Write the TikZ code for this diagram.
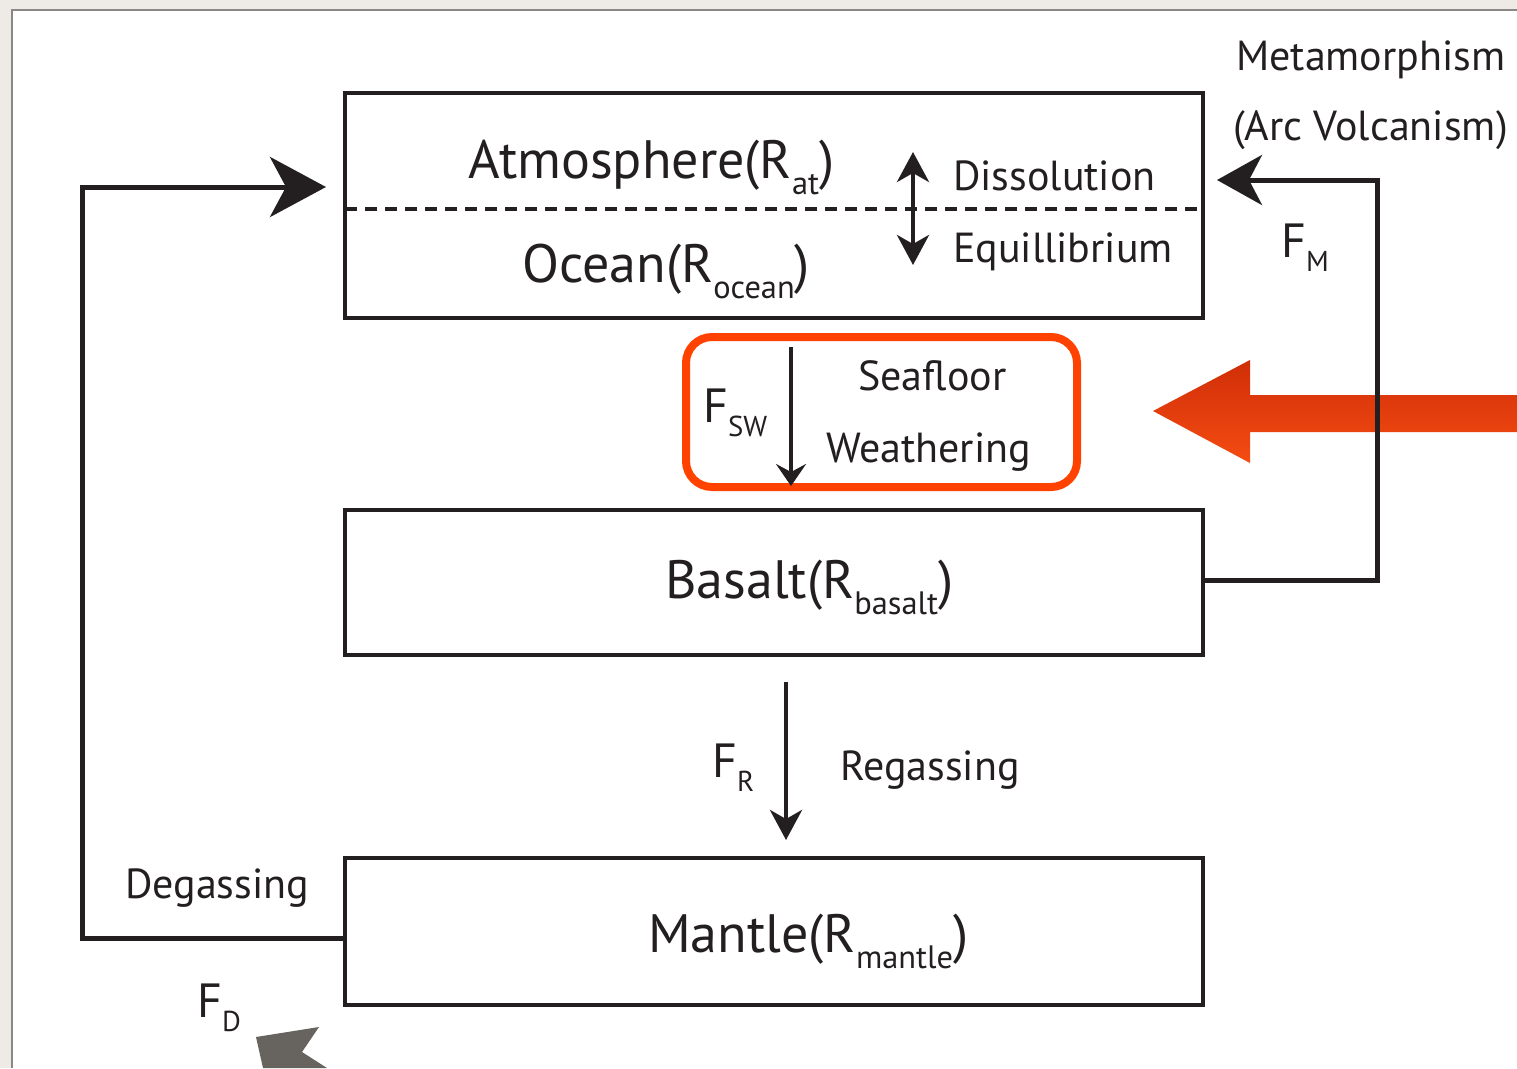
\documentclass[tikz,border=0pt]{standalone}
\usepackage{fontspec}
\setmainfont{PT Sans}
\usetikzlibrary{arrows.meta}
\definecolor{ink}{HTML}{231F20}
\definecolor{bgc}{HTML}{EEEBE6}
\definecolor{frm}{HTML}{8A8784}
\definecolor{redbox}{HTML}{FF4200}
\definecolor{redtop}{HTML}{D02E08}
\definecolor{redbot}{HTML}{F44C12}
\definecolor{grayarr}{HTML}{67645F}
\newcommand\lsub[1]{\raisebox{-0.3em}{\scalebox{0.6}{#1}}}
\begin{document}
\begin{tikzpicture}[x=1pt,y=-1pt,
  box/.style={draw=ink, line width=4.5pt, inner sep=0pt, minimum width=858pt},
  big/.style={text=ink, font=\fontsize{54}{60}\selectfont, inner sep=0pt, anchor=base west},
  lab/.style={text=ink, font=\fontsize{42}{50}\selectfont, inner sep=0pt, anchor=base west},
  flab/.style={text=ink, font=\fontsize{48}{50}\selectfont, inner sep=0pt, anchor=base west},
  loop/.style={draw=ink, line width=5pt},
  flow/.style={draw=ink, line width=4.5pt}]
\useasboundingbox (0,0) rectangle (1517,1068);
\fill[bgc] (0,0) rectangle (1517,1068);
\fill[white] (12,10) rectangle (1517,1068);
\draw[frm, line width=1.5pt] (12,1068) -- (12,10) -- (1517,10);

% boxes
\node[box, minimum height=225pt] (atm) at (774,205.5) {};
\node[box, minimum height=145pt] (bas) at (774,582.5) {};
\node[box, minimum height=147pt] (man) at (774,931.5) {};
\coordinate (dl) at (345,209);
\coordinate (dr) at (1203,209);
\draw[ink, line width=4.5pt, dash pattern=on 12pt off 8pt] (dl) -- (dr);

% box texts
\node[big] (atmt) at (468,178) {Atmosphere(R\lsub{at})};
\node[big] (ocnt) at (522,282) {Ocean(R\lsub{ocean})};
\node[big] (bast) at (665,598) {Basalt(R\lsub{basalt})};
\node[big] (mant) at (648,952) {Mantle(R\lsub{mantle})};

% dissolution equilibrium
\coordinate (eqt) at (913,152);
\coordinate (eqb) at (913,265);
\draw[flow, {Stealth[length=30pt,width=32pt,inset=9pt]}-{Stealth[length=30pt,width=32pt,inset=9pt]}] (eqt) -- (eqb);
\node[lab] (diss) at (953,190) {Dissolution};
\node[lab] (equi) at (953,262) {Equillibrium};

% seafloor weathering
\node[draw=redbox, line width=8pt, rounded corners=26pt, minimum width=391pt, minimum height=150pt, inner sep=0pt] (sw) at (881.5,412) {};
\coordinate (swt) at (791,347);
\coordinate (swb) at (791,486);
\draw[flow, -{Stealth[length=22pt,width=30pt,inset=8pt]}] (swt) -- (swb);
\node[flab] (fsw) at (703,422) {F\lsub{SW}};
\node[lab] (seaf) at (858,390) {Seafloor};
\node[lab] (weat) at (826,462) {Weathering};

% big red arrow
\shade[top color=redtop, bottom color=redbot] (1153,411) -- (1250,360) -- (1250,395) -- (1517,395) -- (1517,432) -- (1250,432) -- (1250,463) -- cycle;

% regassing
\coordinate (rgt) at (786,682);
\coordinate (rgb) at (786,840);
\draw[flow, -{Stealth[length=30pt,width=32pt,inset=9pt]}] (rgt) -- (rgb);
\node[flab] (fr) at (712,777) {F\lsub{R}};
\node[lab] (rega) at (840,780) {Regassing};

% degassing loop
\coordinate (mw) at (345,938);
\coordinate (dg1) at (82,938);
\coordinate (dg2) at (82,187);
\coordinate (dgtip) at (326,187);
\draw[loop, -{Stealth[length=56pt,width=60pt,inset=16pt]}] (mw) -- (dg1) -- (dg2) -- (dgtip);
\node[lab] (dega) at (125,898) {Degassing};
\node[flab] (fd) at (197,1017) {F\lsub{D}};

% metamorphism loop
\coordinate (be) at (1203,580);
\coordinate (m1) at (1377,580);
\coordinate (m2) at (1377,180);
\coordinate (mtip) at (1217,180);
\draw[loop, -{Stealth[length=45pt,width=50pt,inset=13pt]}] (be) -- (m1) -- (m2) -- (mtip);
\node[flab] (fm) at (1281,257) {F\lsub{M}};
\node[lab] (meta) at (1236,70) {Metamorphism};
\node[lab] (arcv) at (1233,140) {(Arc Volcanism)};

% gray arrowhead (cropped)
\fill[grayarr] (256,1037) -- (319,1027) -- (302,1052) -- (327,1068) -- (263,1068) -- cycle;
\end{tikzpicture}
\end{document}
